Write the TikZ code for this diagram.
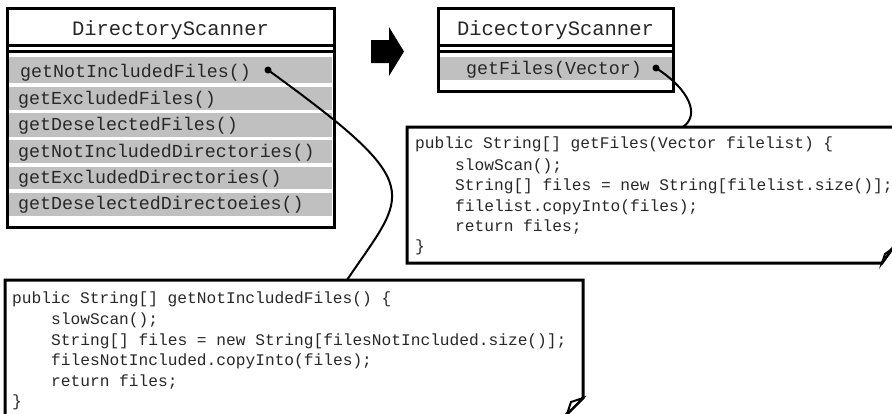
\documentclass[tikz,border=0pt]{standalone}
\usepackage{fontspec}
\setmonofont{Liberation Mono}
\definecolor{rowgray}{RGB}{192,192,192}
\definecolor{ink}{RGB}{40,40,40}
\begin{document}
\begin{tikzpicture}[x=1pt,y=-1pt,
  frame/.style={draw=black, line width=3pt, fill=white, inner sep=0pt, outer sep=0pt, anchor=north west},
  sepline/.style={line width=3pt},
  septhin/.style={line width=2.2pt},
  rowband/.style={fill=rowgray},
  titletxt/.style={anchor=base, inner sep=0pt, text=ink, font=\fontsize{20.5}{22}\selectfont\ttfamily},
  methodtxt/.style={anchor=base west, inner sep=0pt, text=ink, font=\fontsize{18.3}{20}\selectfont\ttfamily},
  codetxt/.style={anchor=base west, inner sep=0pt, text=ink, font=\fontsize{16.2}{18}\selectfont\ttfamily},
  notebox/.style={draw=black, line width=3pt, fill=white, line join=miter},
  flap/.style={draw=black, line width=2pt, fill=white, line join=miter},
  link/.style={line width=2pt},
  pin/.style={circle, fill=black, inner sep=0pt, minimum size=7pt}]
\useasboundingbox (0,0) rectangle (892,413);
\clip (0,0) rectangle (892,413);

% ---------- original class ----------
\node[frame, minimum width=327pt, minimum height=219pt] (oldcls) at (7,8) {};
\foreach \ya/\yb in {57/83,87/110,113/137,140/163,167/189,193/216}
  \fill[rowband] (9,\ya) rectangle (332,\yb);
\draw[line width=3pt] (oldcls.north west) rectangle (oldcls.south east);
\draw[sepline] (7,45) -- (334,45);
\draw[septhin] (7,51.5) -- (334,51.5);
\node[titletxt] (oldtitle) at (170.5,35) {DirectoryScanner};
\node[methodtxt] (m1) at (20,77) {getNotIncludedFiles()};
\node[methodtxt] (m2) at (18,104) {getExcludedFiles()};
\node[methodtxt] (m3) at (18,130) {getDeselectedFiles()};
\node[methodtxt] (m4) at (18,157) {getNotIncludedDirectories()};
\node[methodtxt] (m5) at (18,183) {getExcludedDirectories()};
\node[methodtxt] (m6) at (18,209) {getDeselectedDirectoeies()};
\node[pin] (pinold) at (268,70) {};

% ---------- refactoring arrow ----------
\fill[black] (371,40) -- (389,40) -- (389,27) -- (404,51.5) -- (389,76) -- (389,63) -- (371,63) -- cycle;

% ---------- new class ----------
\node[frame, minimum width=235pt, minimum height=83pt] (newcls) at (438,8) {};
\fill[rowband] (440,57) rectangle (672,80);
\draw[line width=3pt] (newcls.north west) rectangle (newcls.south east);
\draw[sepline] (438,45) -- (673,45);
\draw[septhin] (438,51.5) -- (673,51.5);
\node[titletxt] (newtitle) at (555.5,35) {DicectoryScanner};
\node[methodtxt] (n1) at (466,74) {getFiles(Vector)};
\node[pin] (pinnew) at (656,68) {};

% ---------- note for getFiles ----------
\draw[notebox] (407,127) -- (905,127) -- (905,238) -- (892,249) -- (882,263) -- (407,263) -- cycle;
\draw[flap] (882,263) -- (885,254) -- (892,249) -- cycle;
\coordinate (newjoin) at (683,127);
\node[codetxt] (r1) at (415,148) {public String[] getFiles(Vector filelist) \{};
\node[codetxt] (r2) at (455,170) {slowScan();};
\node[codetxt] (r3) at (455,190) {String[] files = new String[filelist.size()];};
\node[codetxt] (r4) at (455,211) {filelist.copyInto(files);};
\node[codetxt] (r5) at (455,231) {return files;};
\node[codetxt] (r6) at (415,251) {\}};

% ---------- note for getNotIncludedFiles ----------
\draw[notebox] (5,280) -- (583,280) -- (583,398) -- (560,421) -- (5,421) -- cycle;
\draw[flap] (583,398) -- (571,402) -- (567,414) -- cycle;
\coordinate (oldjoin) at (347,280);
\node[codetxt] (b1) at (12,303) {public String[] getNotIncludedFiles() \{};
\node[codetxt] (b2) at (51,324) {slowScan();};
\node[codetxt] (b3) at (51,345) {String[] files = new String[filesNotIncluded.size()];};
\node[codetxt] (b4) at (51,365) {filesNotIncluded.copyInto(files);};
\node[codetxt] (b5) at (51,386) {return files;};
\node[codetxt] (b6) at (12,406) {\}};

% ---------- connectors ----------
\draw[link] (pinold.center) .. controls (430,187.5) and (407,191) .. (oldjoin);
\draw[link] (pinnew.center) .. controls (690,90) and (700,115) .. (newjoin);
\end{tikzpicture}
\end{document}
